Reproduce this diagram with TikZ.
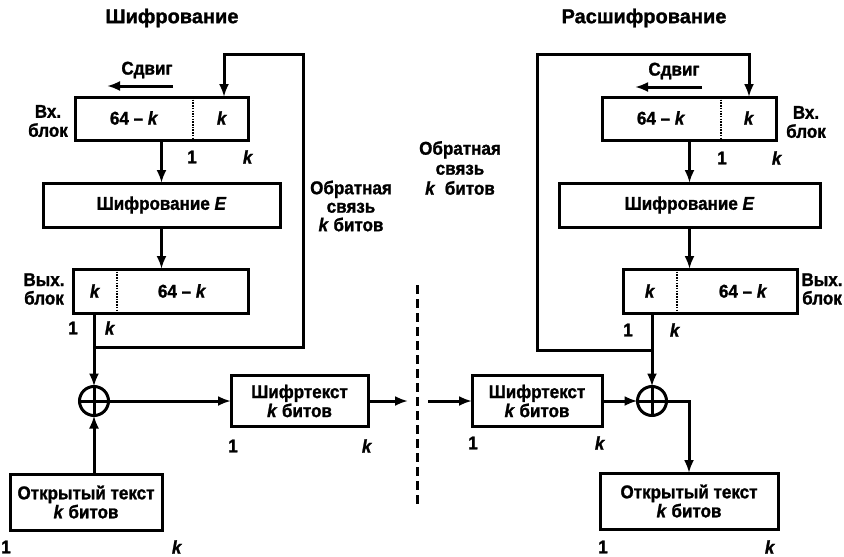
\documentclass[tikz,border=0pt]{standalone}
\usepackage{fontspec}
\setmainfont{Liberation Sans}[FakeStretch=0.92,BoldFeatures={FakeBold=1.3},BoldItalicFeatures={FakeBold=1.3}]
\newfontfamily\ttlfont{Liberation Sans}[BoldFeatures={FakeBold=1.3}]
\usetikzlibrary{arrows.meta}
\begin{document}
\begin{tikzpicture}[x=1pt,y=-1pt,
  every node/.style={font=\bfseries\fontsize{18.5}{19}\selectfont, inner sep=0pt, outer sep=0pt},
  ttl/.style={font=\ttlfont\bfseries\fontsize{20}{22}\selectfont},
  ln/.style={line width=3pt},
  arr/.style={line width=3pt, -{Latex[length=13pt,width=10pt]}},
  box/.style={draw, line width=3pt},
  xorc/.style={draw, circle, line width=3pt, minimum size=29pt},
  dotl/.style={line width=2.2pt, dash pattern=on 1.5pt off 1.2pt},
  cutl/.style={line width=3pt, dash pattern=on 9pt off 5pt},
  two/.style={align=center, font=\bfseries\fontsize{18.5}{#1}\selectfont}
]
\useasboundingbox (0,0) rectangle (844,557);

% ---------------- Left: encryption ----------------
\node[ttl] (titleL) at (172,18) {Шифрование};
\node (shL) at (147,70) {Сдвиг};
\coordinate (shL1) at (173,86);
\coordinate (shL2) at (107,86);
\draw[arr] (shL1) -- (shL2);

\node[box, minimum width=173pt, minimum height=43pt] (inL) at (161.5,118.5) {};
\coordinate (dvL) at (193,118);
\draw[dotl] (dvL |- inL.north) -- (dvL |- inL.south);
\node (inLa) at (134,118) {64 – \textit{k}};
\node (inLb) at (222,118) {\textit{k}};
\node[two=19] (inLlab) at (48,121) {Вх.\\блок};
\node (inL1) at (192,157) {1};
\node (inLk) at (248,157) {\textit{k}};

\node[box, minimum width=237pt, minimum height=44pt] (eL) at (161.5,205) {};
\node (eLt) at (161.5,205) {Шифрование \textit{E}};

\node[box, minimum width=175pt, minimum height=44pt] (outL) at (160.5,291) {};
\coordinate (dvL2) at (117,291);
\draw[dotl] (dvL2 |- outL.north) -- (dvL2 |- outL.south);
\node (outLa) at (95,291) {\textit{k}};
\node (outLb) at (182,291) {64 – \textit{k}};
\node[two=18.5] (outLlab) at (44,289) {Вых.\\блок};
\node (outL1) at (73,328) {1};
\node (outLk) at (110,328) {\textit{k}};

\node[two=18.5] (fbLt) at (351,206) {Обратная\\связь\\\textit{k} битов};

\node[xorc] (xL) at (94,401) {};
\draw[ln] (xL.north) -- (xL.south) (xL.west) -- (xL.east);

\node[box, minimum width=137pt, minimum height=51pt] (ctL) at (299.5,401) {};
\node[two=19] (ctLt) at (299.5,401) {Шифртекст\\\textit{k} битов};
\node (ctL1) at (233,446) {1};
\node (ctLk) at (367,446) {\textit{k}};

\node[box, minimum width=152pt, minimum height=56pt] (ptL) at (86,502) {};
\node[two=19] (ptLt) at (86,502) {Открытый текст\\\textit{k} битов};
\node (ptL1) at (6,547) {1};
\node (ptLk) at (177,547) {\textit{k}};

\coordinate (jL) at (94,347);
\coordinate (fbL1) at (303,347);
\coordinate (fbL2) at (303,54);
\coordinate (fbL3) at (224,54);

\draw[arr] (inL.south) -- (eL.north);
\draw[arr] (eL.south) -- (eL.south |- outL.north);
\draw[arr] (outL.south -| xL) -- (xL.north);
\draw[arr] (jL) -- (fbL1) -- (fbL2) -- (fbL3) -- (fbL3 |- inL.north);
\draw[arr] (ptL.north -| xL) -- (xL.south);
\draw[arr] (xL.east) -- (ctL.west);
\coordinate (cutL) at (408,401);
\draw[arr] (ctL.east) -- (cutL);

% ---------------- Middle ----------------
\coordinate (cutTop) at (417,285);
\coordinate (cutBot) at (417,508);
\draw[cutl] (cutTop) -- (cutBot);
\node[two=20] (fbRt) at (460,168) {Обратная\\связь\\\textit{k}~~битов};

% ---------------- Right: decryption ----------------
\node[ttl] (titleR) at (644,18) {Расшифрование};
\node (shR) at (674,71) {Сдвиг};
\coordinate (shR1) at (702,87);
\coordinate (shR2) at (635,87);
\draw[arr] (shR1) -- (shR2);

\node[box, minimum width=174pt, minimum height=43pt] (inR) at (689,118.5) {};
\coordinate (dvR) at (721,118);
\draw[dotl] (dvR |- inR.north) -- (dvR |- inR.south);
\node (inRa) at (661,118) {64 – \textit{k}};
\node (inRb) at (749,118) {\textit{k}};
\node[two=19] (inRlab) at (806,122) {Вх.\\блок};
\node (inR1) at (722,158) {1};
\node (inRk) at (777,158) {\textit{k}};

\node[box, minimum width=261pt, minimum height=44pt] (eR) at (689.5,205) {};
\node (eRt) at (689.5,205) {Шифрование \textit{E}};

\node[box, minimum width=174pt, minimum height=44pt] (outR) at (710,291) {};
\coordinate (dvR2) at (677,291);
\draw[dotl] (dvR2 |- outR.north) -- (dvR2 |- outR.south);
\node (outRa) at (650,291) {\textit{k}};
\node (outRb) at (743,291) {64 – \textit{k}};
\node[two=18.5] (outRlab) at (822,289) {Вых.\\блок};
\node (outR1) at (628,330) {1};
\node (outRk) at (675,330) {\textit{k}};

\node[xorc] (xR) at (652,401) {};
\draw[ln] (xR.north) -- (xR.south) (xR.west) -- (xR.east);

\node[box, minimum width=130pt, minimum height=51pt] (ctR) at (537,401) {};
\node[two=19] (ctRt) at (537,401) {Шифртекст\\\textit{k} битов};
\node (ctR1) at (473,443) {1};
\node (ctRk) at (600,443) {\textit{k}};

\node[box, minimum width=178pt, minimum height=56pt] (ptR) at (689,501) {};
\node[two=19] (ptRt) at (689,501) {Открытый текст\\\textit{k} битов};
\node (ptR1) at (603,547) {1};
\node (ptRk) at (770,547) {\textit{k}};

\coordinate (jR) at (652,350);
\coordinate (fbR1) at (537,350);
\coordinate (fbR2) at (537,54);
\coordinate (fbR3) at (749,54);

\draw[arr] (inR.south -| eR) -- (eR.north);
\draw[arr] (eR.south) -- (eR.south |- outR.north);
\draw[arr] (outR.south -| xR) -- (xR.north);
\draw[arr] (jR) -- (fbR1) -- (fbR2) -- (fbR3) -- (fbR3 |- inR.north);
\coordinate (cutR) at (428,401);
\draw[arr] (cutR) -- (ctR.west);
\draw[arr] (ctR.east) -- (xR.west);
\draw[arr] (xR.east) -| (ptR.north);
\end{tikzpicture}
\end{document}
